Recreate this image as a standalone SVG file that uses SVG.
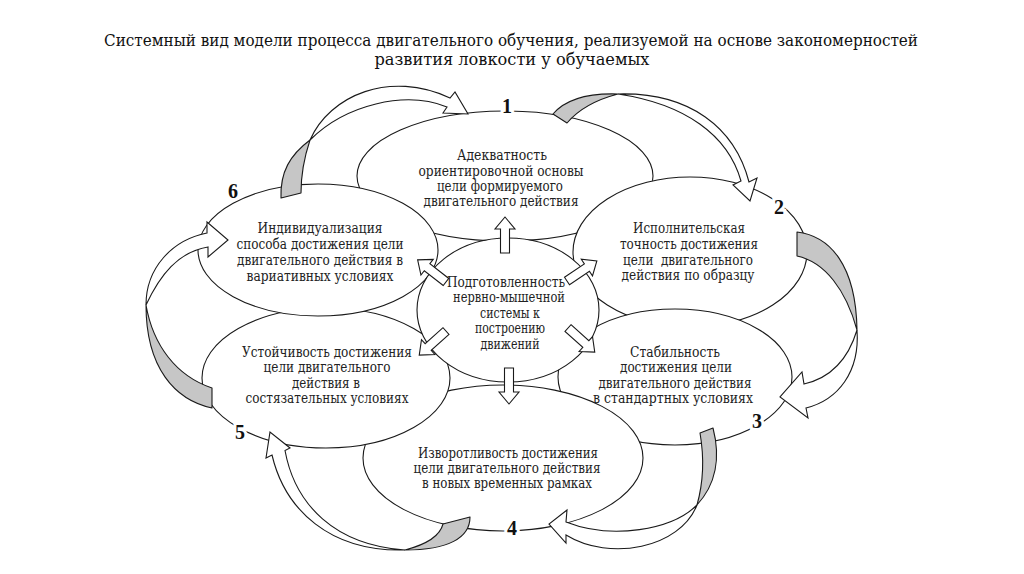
<svg xmlns="http://www.w3.org/2000/svg" xmlns:xlink="http://www.w3.org/1999/xlink" width="1024" height="574" viewBox="0 0 1024 574">
<style>
.el{fill:#fff;stroke:#1a1a1a;stroke-width:1.1}
.t{font-family:"DejaVu Serif","Liberation Serif",serif;font-size:14px;fill:#222;text-anchor:middle}
.num{font-family:"Liberation Serif","DejaVu Serif",serif;font-weight:bold;font-size:20px;text-anchor:middle;fill:#111;stroke:#fff;stroke-width:6;paint-order:stroke}
.title{font-family:"DejaVu Serif","Liberation Serif",serif;font-size:16px;text-anchor:middle;fill:#111}
.g{fill:#c6c6c6;stroke:#1a1a1a;stroke-width:1.1;stroke-linejoin:round}
.w{fill:#fff;stroke:#1a1a1a;stroke-width:1.1;stroke-linejoin:miter}
</style>
<defs>
<path id="blk" class="w" d="M0,-4.5 L24,-4.5 L24,-10 L36,0 L24,10 L24,4.5 L0,4.5 Z"/>
</defs>
<rect width="1024" height="574" fill="#fff"/>
<g id="title">
<text class="title" x="511" y="46" textLength="814" lengthAdjust="spacingAndGlyphs">Системный вид модели процесса двигательного обучения, реализуемой на основе закономерностей</text>
<text class="title" x="512" y="65" textLength="275" lengthAdjust="spacingAndGlyphs">развития ловкости у обучаемых</text>
</g>
<g id="node1">
<ellipse class="el" cx="505" cy="176" rx="148" ry="65"/>
<text class="t" x="502" y="160" textLength="90" lengthAdjust="spacingAndGlyphs">Адекватность</text>
<text class="t" x="501" y="176" textLength="165" lengthAdjust="spacingAndGlyphs">ориентировочной основы</text>
<text class="t" x="500" y="191" textLength="126" lengthAdjust="spacingAndGlyphs">цели формируемого</text>
<text class="t" x="501" y="206" textLength="155" lengthAdjust="spacingAndGlyphs">двигательного действия</text>
</g>
<g id="node2">
<ellipse class="el" cx="690" cy="252" rx="117" ry="75"/>
<text class="t" x="689" y="233" textLength="112" lengthAdjust="spacingAndGlyphs">Исполнительская</text>
<text class="t" x="689" y="249" textLength="138" lengthAdjust="spacingAndGlyphs">точность достижения</text>
<text class="t" x="688" y="265" textLength="130" lengthAdjust="spacingAndGlyphs" xml:space="preserve">цели  двигательного</text>
<text class="t" x="688" y="280" textLength="133" lengthAdjust="spacingAndGlyphs">действия по образцу</text>
</g>
<g id="node3">
<ellipse class="el" cx="675" cy="377" rx="117" ry="68"/>
<text class="t" x="675" y="357" textLength="90" lengthAdjust="spacingAndGlyphs">Стабильность</text>
<text class="t" x="676" y="372" textLength="112" lengthAdjust="spacingAndGlyphs">достижения цели</text>
<text class="t" x="675" y="388" textLength="153" lengthAdjust="spacingAndGlyphs">двигательного действия</text>
<text class="t" x="673" y="403" textLength="160" lengthAdjust="spacingAndGlyphs">в стандартных условиях</text>
</g>
<g id="node4">
<ellipse class="el" cx="503" cy="458" rx="140" ry="73"/>
<text class="t" x="508" y="458" textLength="180" lengthAdjust="spacingAndGlyphs">Изворотливость достижения</text>
<text class="t" x="507" y="473" textLength="187" lengthAdjust="spacingAndGlyphs">цели двигательного действия</text>
<text class="t" x="507" y="488" textLength="170" lengthAdjust="spacingAndGlyphs">в новых временных рамках</text>
</g>
<g id="node5">
<ellipse class="el" cx="326" cy="378" rx="124" ry="70"/>
<text class="t" x="327" y="357" textLength="170" lengthAdjust="spacingAndGlyphs">Устойчивость достижения</text>
<text class="t" x="327" y="372" textLength="127" lengthAdjust="spacingAndGlyphs">цели двигательного</text>
<text class="t" x="326" y="388" textLength="68" lengthAdjust="spacingAndGlyphs">действия в</text>
<text class="t" x="327" y="403" textLength="163" lengthAdjust="spacingAndGlyphs">состязательных условиях</text>
</g>
<g id="node6">
<ellipse class="el" cx="318" cy="250" rx="120" ry="66"/>
<text class="t" x="320" y="233" textLength="125" lengthAdjust="spacingAndGlyphs">Индивидуализация</text>
<text class="t" x="320" y="249" textLength="167" lengthAdjust="spacingAndGlyphs">способа достижения цели</text>
<text class="t" x="320" y="265" textLength="166" lengthAdjust="spacingAndGlyphs">двигательного действия в</text>
<text class="t" x="320" y="281" textLength="147" lengthAdjust="spacingAndGlyphs">вариативных условиях</text>
</g>
<g id="node0">
<ellipse class="el" cx="508" cy="310" rx="91" ry="72"/>
<text class="t" x="506" y="287" textLength="118" lengthAdjust="spacingAndGlyphs">Подготовленность</text>
<text class="t" x="509" y="302" textLength="112" lengthAdjust="spacingAndGlyphs">нервно-мышечной</text>
<text class="t" x="510" y="318" textLength="60" lengthAdjust="spacingAndGlyphs">системы к</text>
<text class="t" x="510" y="333" textLength="70" lengthAdjust="spacingAndGlyphs">построению</text>
<text class="t" x="510" y="349" textLength="59" lengthAdjust="spacingAndGlyphs">движений</text>
</g>
<g id="connectors">
<use xlink:href="#blk" transform="translate(505,253) rotate(-90)"/>
<use xlink:href="#blk" transform="translate(509,368) rotate(90)"/>
<use xlink:href="#blk" transform="translate(446,282) rotate(-142)"/>
<use xlink:href="#blk" transform="translate(567,281) rotate(-34)"/>
<use xlink:href="#blk" transform="translate(446,331) rotate(138)"/>
<use xlink:href="#blk" transform="translate(568,328) rotate(42)"/>
<path class="g" d="M281,198 C280,172 290,155 310,140 C305,155 301,172 301,193 Z"/>
<path class="w" d="M310,140 C330,95 390,70 450,98 L455,92 L468,114 L443,113 L447,107 C405,90 345,105 310,140 Z"/>
<path class="g" d="M553,114 C565,100 588,93 618,94 C595,100 578,110 567,123 Z"/>
<path class="w" d="M618,94 C690,92 735,128 749,182 L757,178 L750,201 L733,185 L741,181 C728,135 685,104 618,94 Z"/>
<path class="g" d="M797,232 C830,236 856,265 857,330 C846,290 825,262 797,256 Z"/>
<path class="w" d="M857,330 C860,372 838,400 806,408 L808,418 L780,397 L802,372 L804,384 C830,378 848,360 857,330 Z"/>
<path class="g" d="M700,433 L713,428 C720,455 718,482 697,505 C704,480 704,456 700,433 Z"/>
<path class="w" d="M697,505 C680,548 610,562 566,535 L566,543 L549,524 L567,510 L566,522 C612,540 672,530 697,505 Z"/>
<path class="g" d="M443,524 L470,517 C470,538 448,550 405,550 C428,544 440,536 443,524 Z"/>
<path class="w" d="M405,550 C330,552 285,510 272,455 L266,458 L270,432 L290,448 L285,450.5 C295,505 335,545 405,550 Z"/>
<path class="g" d="M212,388 L212,408 C175,400 146,368 146,305 C153,345 176,376 212,388 Z"/>
<path class="w" d="M146,305 C146,268 172,240 207,233 L207,222 L228,240 L208,257 L208,247 C178,252 160,275 146,305 Z"/>
</g>
<g id="labels">
<text class="num" x="507" y="113">1</text>
<text class="num" x="779" y="214">2</text>
<text class="num" x="757" y="428">3</text>
<text class="num" x="512" y="535">4</text>
<text class="num" x="240" y="439">5</text>
<text class="num" x="233" y="198">6</text>
</g>
</svg>
